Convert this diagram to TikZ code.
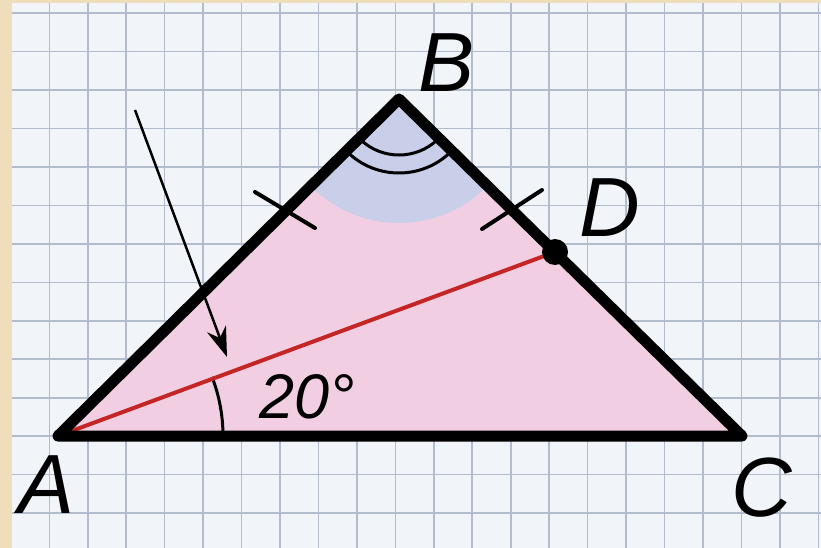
\documentclass[tikz,border=0pt]{standalone}
\usepackage{fontspec}
\setmainfont{Liberation Sans}
\usetikzlibrary{calc,arrows.meta}
\definecolor{paper}{RGB}{241,245,250}
\definecolor{frame}{RGB}{238,222,188}
\definecolor{gridblue}{RGB}{178,188,204}
\definecolor{pinkfill}{RGB}{242,206,226}
\definecolor{bluefill}{RGB}{201,206,233}
\definecolor{cevred}{RGB}{196,38,38}
\tikzset{
  gridline/.style={
    draw = gridblue,
    line width = 1.6pt
  },
  side/.style={
    line width = 11pt,
    line join = round,
    line cap = round
  },
  cevian/.style={
    draw = cevred,
    line width = 4pt
  },
  angarc/.style={
    line width = 3pt
  },
  tickmark/.style={
    line width = 4pt,
    line cap = round
  },
  pointer/.style={
    line width = 2.5pt,
    -{Stealth[length=30pt,width=20pt]}
  },
  lbl/.style={
    font = \fontsize{84}{90}\selectfont\itshape,
    inner sep = 0pt,
    anchor = base
  },
  deg/.style={
    font = \fontsize{63}{70}\selectfont\itshape,
    inner sep = 0pt,
    anchor = base
  }
}
\begin{document}
\begin{tikzpicture}[x=1pt,y=-1pt]
    \useasboundingbox (0,0) rectangle (821,548);
    \fill[frame] (0,0) rectangle (821,548);
    \fill[paper] (12,3) rectangle (821,548);
    \foreach \i in {0,...,20}{
      \draw[gridline] ({49.3+38.45*\i},3) -- ({49.3+38.45*\i},548);
    }
    \foreach \j in {0,...,13}{
      \draw[gridline] (12,{13.2+38.45*\j}) -- (821,{13.2+38.45*\j});
    }
    \coordinate (A) at (58,436);
    \coordinate (B) at (399,99);
    \coordinate (C) at (742,436);
    \coordinate (D) at (555,252);
    \fill[pinkfill] (A) -- (B) -- (C) -- cycle;
    \begin{scope}
      \clip (A) -- (B) -- (C) -- cycle;
      \fill[bluefill] (B) circle (124);
    \end{scope}
    \draw[angarc] ($(B)+(47:56)$) arc[start angle=47,end angle=133,radius=56];
    \draw[angarc] ($(B)+(46:74)$) arc[start angle=46,end angle=134,radius=74];
    \draw[angarc] ($(A)+(0:165)$) arc[start angle=0,end angle=-21,radius=165];
    \draw[tickmark] (255,192) -- (315,228);
    \draw[tickmark] (482,229) -- (542,190);
    \draw[cevian] (A) -- (D);
    \draw[side] (A) -- (B) -- (C) -- cycle;
    \fill (D) circle (13);
    \coordinate (P) at (135,110);
    \coordinate (Q) at (227,357);
    \draw[pointer] (P) -- (Q);
    \node[lbl] (lA) at (47,513) {A};
    \node[lbl] (lB) at (447,92) {B};
    \node[lbl] (lC) at (762,516) {C};
    \node[lbl] (lD) at (610,236) {D};
    \node[deg] (ang) at (307,418) {20°};
\end{tikzpicture}
\end{document}
